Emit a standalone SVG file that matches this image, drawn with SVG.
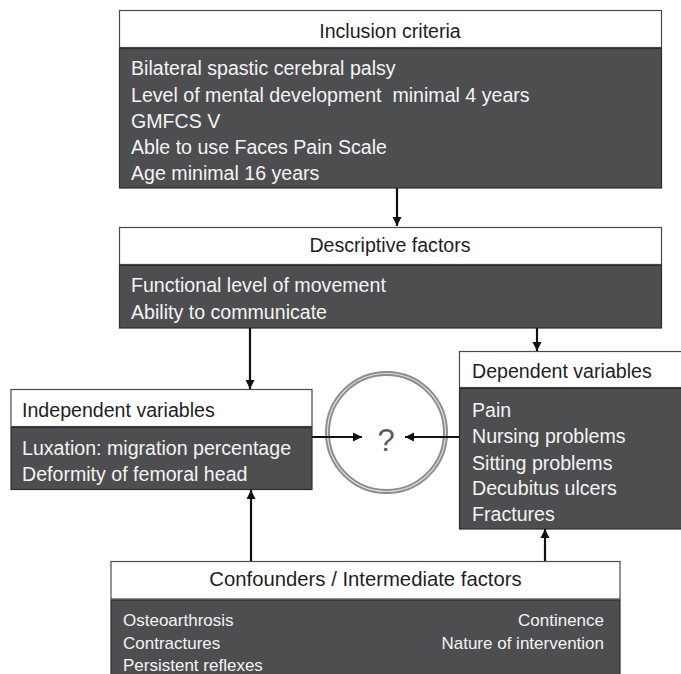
<svg xmlns="http://www.w3.org/2000/svg" width="681" height="674" viewBox="0 0 681 674">
<defs>
<style>
.hdr{fill:#ffffff;stroke:#4a4a4a;stroke-width:1.2}
.drk{fill:#4d4e50;stroke:#2e2e2e;stroke-width:1.2}
.ht{font-family:"Liberation Sans",Arial,sans-serif;font-size:19.6px;fill:#1e1e1e}
.bt{font-family:"Liberation Sans",Arial,sans-serif;font-size:19.6px;fill:#f4f4f4}
.st{font-family:"Liberation Sans",Arial,sans-serif;font-size:17px;fill:#f4f4f4}
.ln{stroke:#111111;stroke-width:2.2;fill:none}
</style>
<marker id="ah" viewBox="0 0 10 10" refX="10" refY="5" markerWidth="4.2" markerHeight="4.2" orient="auto" markerUnits="strokeWidth">
<path d="M0,0 L10,5 L0,10 z" fill="#111111"/>
</marker>
</defs>
<rect width="681" height="674" fill="#ffffff"/>

<g id="inclusion">
<rect class="hdr" x="119.5" y="10.5" width="542" height="37"/>
<rect class="drk" x="119.5" y="48.5" width="542" height="139.5"/>
<text class="ht" x="390" y="38" text-anchor="middle">Inclusion criteria</text>
<text class="bt" x="131" y="75">Bilateral spastic cerebral palsy</text>
<text class="bt" x="131" y="101.5" xml:space="preserve">Level of mental development  minimal 4 years</text>
<text class="bt" x="131" y="128">GMFCS V</text>
<text class="bt" x="131" y="154">Able to use Faces Pain Scale</text>
<text class="bt" x="131" y="180">Age minimal 16 years</text>
</g>

<g id="descriptive">
<rect class="hdr" x="119.5" y="227.5" width="542" height="37"/>
<rect class="drk" x="119.5" y="265.5" width="542" height="62.5"/>
<text class="ht" x="390" y="252" text-anchor="middle">Descriptive factors</text>
<text class="bt" x="131" y="292">Functional level of movement</text>
<text class="bt" x="131" y="319">Ability to communicate</text>
</g>

<g id="independent">
<rect class="hdr" x="11" y="389.5" width="301" height="37"/>
<rect class="drk" x="11" y="427.5" width="301" height="62"/>
<text class="ht" x="22" y="417">Independent variables</text>
<text class="bt" x="22" y="455">Luxation: migration percentage</text>
<text class="bt" x="22" y="481">Deformity of femoral head</text>
</g>

<g id="dependent">
<rect class="hdr" x="459.5" y="351.5" width="225" height="36"/>
<rect class="drk" x="459.5" y="388.5" width="225" height="140.5"/>
<text class="ht" x="472" y="378">Dependent variables</text>
<text class="bt" x="472" y="417">Pain</text>
<text class="bt" x="472" y="443">Nursing problems</text>
<text class="bt" x="472" y="470">Sitting problems</text>
<text class="bt" x="472" y="495">Decubitus ulcers</text>
<text class="bt" x="472" y="521">Fractures</text>
</g>

<g id="question">
<circle cx="386.5" cy="432.5" r="59" fill="none" stroke="#8c8c8c" stroke-width="5"/>
<circle cx="386.5" cy="432.5" r="59" fill="none" stroke="#dcdcdc" stroke-width="1.2"/>
<text x="386" y="451" text-anchor="middle" font-family="Liberation Sans,Arial,sans-serif" font-size="31px" fill="#5a5a5a">?</text>
</g>

<g id="confounders">
<rect class="hdr" x="111" y="561.5" width="509" height="37.5"/>
<rect class="drk" x="111" y="600" width="509" height="80"/>
<text class="ht" x="365.5" y="586" text-anchor="middle" style="font-size:20.3px">Confounders / Intermediate factors</text>
<text class="st" x="123" y="626">Osteoarthrosis</text>
<text class="st" x="123" y="649">Contractures</text>
<text class="st" x="123" y="671">Persistent reflexes</text>
<text class="st" x="604" y="626" text-anchor="end">Continence</text>
<text class="st" x="604" y="649" text-anchor="end">Nature of intervention</text>
</g>

<g id="connectors">
<line class="ln" x1="397" y1="188" x2="397" y2="226" marker-end="url(#ah)"/>
<line class="ln" x1="250" y1="328" x2="250" y2="389" marker-end="url(#ah)"/>
<line class="ln" x1="537" y1="328" x2="537" y2="351" marker-end="url(#ah)"/>
<line class="ln" x1="251" y1="561" x2="251" y2="490" marker-end="url(#ah)"/>
<line class="ln" x1="545" y1="561" x2="545" y2="529" marker-end="url(#ah)"/>
<line class="ln" x1="312" y1="437" x2="362" y2="437" marker-end="url(#ah)"/>
<line class="ln" x1="459" y1="437" x2="405" y2="437" marker-end="url(#ah)"/>
</g>
</svg>
